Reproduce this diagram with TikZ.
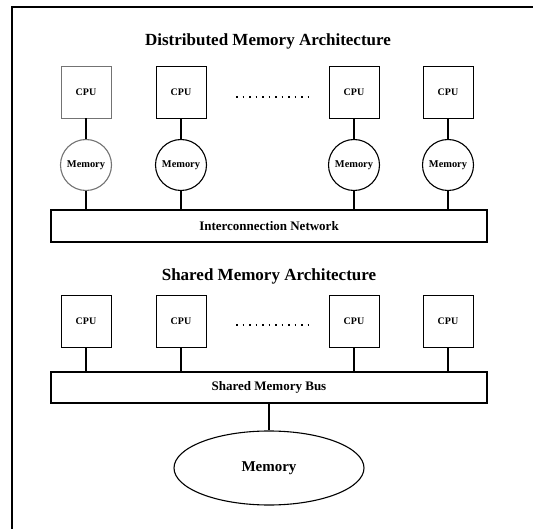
\documentclass[tikz,border=0pt]{standalone}
\usepackage{fontspec}
\setmainfont{Liberation Serif}
\usetikzlibrary{shapes.geometric, positioning}

\begin{document}
\begin{tikzpicture}[x=1pt, y=-1pt,
    cpubox/.style={rectangle, draw, line width=0.9pt, minimum width=50pt,
                   minimum height=52pt, inner sep=0pt, font=\bfseries\fontsize{10}{10}\selectfont},
    memball/.style={circle, draw, line width=1.1pt, minimum size=51pt,
                    inner sep=0pt, font=\bfseries\fontsize{10.4}{10}\selectfont},
    busbox/.style={rectangle, draw, line width=1.1pt, minimum width=436pt,
                   inner sep=0pt, font=\bfseries\fontsize{13}{13}\selectfont},
    heading/.style={font=\bfseries\fontsize{17}{17}\selectfont},
    link/.style={line width=1.2pt},
    ellipsis/.style={line width=1.4pt, dash pattern=on 1.5pt off 5pt}]
\useasboundingbox (0,0) rectangle (533,529);

% frame of the figure
\draw[line width=2pt] (533,7) -- (12,7) -- (12,529);

% distributed memory
\node[heading] (dtitle) at (268,41) {Distributed Memory Architecture};
\node[cpubox, draw=black!55] (cpu1) at (86,92) {CPU};
\node[cpubox] (cpu2) at (181,92) {CPU};
\node[cpubox] (cpu3) at (354,92) {CPU};
\node[cpubox] (cpu4) at (448,92) {CPU};
\coordinate (dotsa) at (236,97);
\coordinate (dotsb) at (313,97);
\draw[ellipsis] (dotsa) -- (dotsb);

\node[memball, draw=black!55] (mem1) at (86,165) {Memory};
\node[memball] (mem2) at (181,165) {Memory};
\node[memball] (mem3) at (354,165) {Memory};
\node[memball] (mem4) at (448,165) {Memory};

\node[busbox, minimum height=32pt] (net) at (269,226) {Interconnection Network};

\draw[link] (cpu1) -- (mem1);
\draw[link] (cpu2) -- (mem2);
\draw[link] (cpu3) -- (mem3);
\draw[link] (cpu4) -- (mem4);
\draw[link] (mem1) -- (mem1 |- net.north);
\draw[link] (mem2) -- (mem2 |- net.north);
\draw[link] (mem3) -- (mem3 |- net.north);
\draw[link] (mem4) -- (mem4 |- net.north);

% shared memory
\node[heading] (stitle) at (269,276) {Shared Memory Architecture};
\node[cpubox] (scpu1) at (86,321) {CPU};
\node[cpubox] (scpu2) at (181,321) {CPU};
\node[cpubox] (scpu3) at (354,321) {CPU};
\node[cpubox] (scpu4) at (448,321) {CPU};
\coordinate (sdotsa) at (236,325);
\coordinate (sdotsb) at (313,325);
\draw[ellipsis] (sdotsa) -- (sdotsb);

\node[busbox, minimum height=31pt] (bus) at (269,387.5) {Shared Memory Bus};
\node[ellipse, draw, line width=1.1pt, minimum width=190pt, minimum height=74pt,
      font=\bfseries\fontsize{15}{15}\selectfont] (shmem) at (269,468) {Memory};

\draw[link] (scpu1) -- (scpu1 |- bus.north);
\draw[link] (scpu2) -- (scpu2 |- bus.north);
\draw[link] (scpu3) -- (scpu3 |- bus.north);
\draw[link] (scpu4) -- (scpu4 |- bus.north);
\draw[link] (bus) -- (shmem);
\end{tikzpicture}
\end{document}
